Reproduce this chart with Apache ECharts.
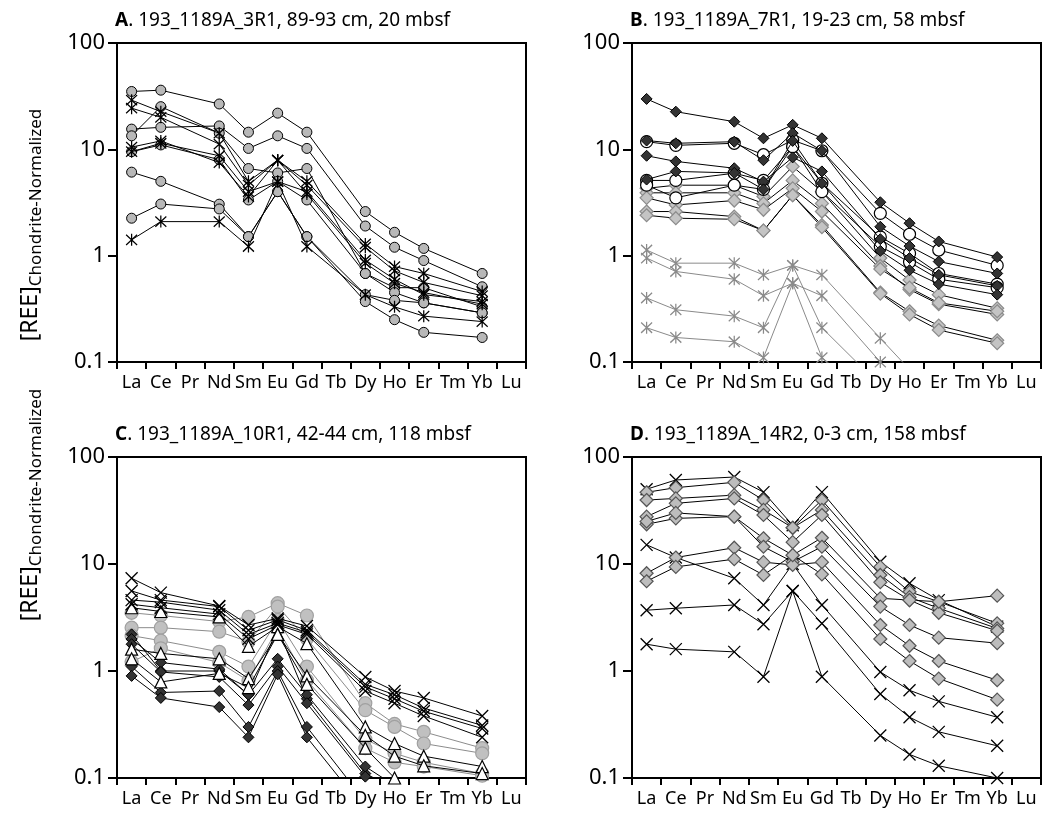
<!DOCTYPE html>
<html>
<head>
<meta charset="utf-8">
<script src="https://cdn.jsdelivr.net/npm/echarts@6/dist/echarts.min.js"></script>
<style>
html, body { margin: 0; padding: 0; background: #fff; }
#chart { width: 1045px; height: 822px; }
</style>
</head>
<body>
<div id="chart"></div>
<script>
// element order on the x axis (Pr, Tb, Tm, Lu not measured -> null)
var elements = ['La', 'Ce', 'Pr', 'Nd', 'Sm', 'Eu', 'Gd', 'Tb', 'Dy', 'Ho', 'Er', 'Tm', 'Yb', 'Lu'];
var yTicks = [0.1, 1, 10, 100];

var panelTitles = [
  ['A', '. 193_1189A_3R1, 89-93 cm, 20 mbsf'],
  ['B', '. 193_1189A_7R1, 19-23 cm, 58 mbsf'],
  ['C', '. 193_1189A_10R1, 42-44 cm, 118 mbsf'],
  ['D', '. 193_1189A_14R2, 0-3 cm, 158 mbsf']
];

// A. 3R1
var aCircles = [
  [35, 36, null, 26.7, 14.5, 21.9, 14.5, null, 2.6, 1.66, 1.17, null, 0.68, null],
  [15.5, 16.1, null, 16.6, 10.2, 13.4, 10.2, null, 1.9, 1.2, 0.9, null, 0.51, null],
  [13.4, 25.2, null, 14.2, 6.6, 6.0, 6.6, null, 0.68, 0.5, 0.5, null, 0.33, null],
  [9.5, 11, null, 8, 3.34, 5.0, 3.34, null, 0.68, 0.45, 0.36, null, 0.29, null],
  [6.1, 5.0, null, 3.05, 1.51, 4.0, 1.51, null, 0.43, 0.38, 0.36, null, 0.29, null],
  [2.25, 3.06, null, 2.75, 1.51, 4.0, 1.51, null, 0.37, 0.25, 0.19, null, 0.17, null]
];
var aStars = [
  [29, 22.6, null, 14.2, 5.0, 7.9, 5.0, null, 1.29, 0.79, 0.68, null, 0.46, null],
  [24.4, 20, null, 11.2, 4.6, 7.9, 4.6, null, 1.2, 0.72, 0.56, null, 0.42, null],
  [9.5, 11.4, null, 8.7, 4.0, 4.97, 4.0, null, 0.91, 0.6, 0.43, null, 0.37, null],
  [10.5, 12, null, 7.5, 3.6, 7.9, 3.8, null, 0.85, 0.55, 0.45, null, 0.35, null],
  [1.41, 2.09, null, 2.09, 1.22, 4.97, 1.22, null, 0.43, 0.33, 0.27, null, 0.24, null]
];

// B. 7R1
var bGrayStars = [
  [1.13, 0.85, null, 0.85, 0.66, 0.81, 0.66, null, 0.167, 0.085, null, null, null, null],
  [0.95, 0.71, null, 0.6, 0.42, 0.55, 0.42, null, 0.1, 0.06, null, null, null, null],
  [0.4, 0.31, null, 0.27, 0.21, 0.81, 0.21, null, 0.06, null, null, null, null, null],
  [0.21, 0.17, null, 0.155, 0.11, 0.55, 0.11, null, 0.04, null, null, null, null, null]
];
var bLight = [
  [4.3, 4.6, null, 4.6, 3.6, 6.9, 4.0, null, 0.95, 0.59, 0.43, null, 0.32, null],
  [3.9, 3.9, null, 3.9, 3.1, 5.1, 3.1, null, 0.8, 0.48, 0.35, null, 0.28, null],
  [3.5, 3.0, null, 3.3, 2.7, 4.3, 2.6, null, 0.75, 0.5, 0.36, null, 0.3, null],
  [2.6, 2.6, null, 2.33, 1.72, 3.7, 1.94, null, 0.45, 0.3, 0.22, null, 0.16, null],
  [2.4, 2.25, null, 2.2, 1.72, 3.7, 1.85, null, 0.44, 0.28, 0.2, null, 0.15, null]
];
var bWhite = [
  [11.8, 10.9, null, 11.4, 8.9, 12.2, 9.7, null, 2.5, 1.59, 1.13, null, 0.81, null],
  [5.1, 5.1, null, 5.96, 5.1, 10.6, 4.8, null, 1.5, 1.05, 0.68, null, 0.54, null],
  [4.6, 3.5, null, 4.6, 4.2, 10.6, 4.0, null, 1.22, 0.87, 0.6, null, 0.5, null]
];
var bDark = [
  [29.8, 22.6, null, 18.2, 12.7, 17, 12.7, null, 3.18, 2.02, 1.36, null, 0.97, null],
  [12.1, 11.4, null, 11.8, 7.9, 14.2, 9.7, null, 1.87, 1.23, 0.88, null, 0.68, null],
  [8.7, 7.7, null, 6.64, 4.97, 8.4, 6.2, null, 1.43, 0.95, 0.66, null, 0.52, null],
  [5.2, 6.2, null, 6.0, 4.2, 12, 4.8, null, 1.11, 0.73, 0.54, null, 0.43, null]
];

// C. 10R1
var cCircles = [
  [3.5, 3.3, null, 2.9, 3.2, 4.3, 3.3, null, 0.5, 0.32, 0.27, null, 0.19, null],
  [2.54, 2.54, null, 2.33, 1.88, 4.0, 2.0, null, 0.43, 0.3, 0.21, null, 0.17, null],
  [2.14, 1.92, null, 1.51, 1.1, 3.0, 1.1, null, 0.23, 0.17, 0.14, null, 0.11, null],
  [1.22, 1.63, null, 1.2, 0.81, 2.5, 0.82, null, 0.19, 0.14, 0.128, null, 0.105, null]
];
var cDiamonds = [
  [2.2, 1.0, null, 1.0, 0.6, 2.5, 0.55, null, 0.11, 0.08, null, null, null, null],
  [1.99, 1.2, null, 1.04, 0.6, 1.3, 0.6, null, 0.128, 0.085, null, null, null, null],
  [1.78, 0.98, null, 0.88, 0.48, 1.1, 0.5, null, 0.103, 0.07, null, null, null, null],
  [1.1, 0.63, null, 0.65, 0.3, 1.0, 0.3, null, 0.06, null, null, null, null, null],
  [0.9, 0.56, null, 0.46, 0.24, 0.93, 0.24, null, 0.05, null, null, null, null, null]
];
var cTriangles = [
  [3.9, 3.6, null, 3.2, 1.7, 2.6, 1.8, null, 0.3, 0.21, 0.16, null, 0.128, null],
  [1.6, 1.46, null, 1.3, 0.85, 2.2, 0.9, null, 0.25, 0.16, 0.13, null, 0.11, null],
  [1.3, 0.79, null, 0.95, 0.7, 2.2, 0.75, null, 0.19, 0.1, 0.09, null, null, null]
];
var cCrosses = [
  [7.35, 5.4, null, 4.05, 2.69, 3.1, 2.63, null, 0.88, 0.65, 0.56, null, 0.38, null],
  [5.6, 4.6, null, 4.0, 2.4, 3.0, 2.4, null, 0.75, 0.6, 0.45, null, 0.31, null],
  [4.6, 4.4, null, 3.7, 2.2, 2.8, 2.3, null, 0.71, 0.55, 0.42, null, 0.29, null],
  [4.2, 3.9, null, 3.4, 2.0, 2.7, 2.2, null, 0.65, 0.5, 0.38, null, 0.24, null]
];

// D. 14R2
var dCrosses = [
  [50, 61, null, 65, 47, 23, 47, null, 10.5, 6.6, 4.6, null, 2.6, null],
  [15.1, 11.5, null, 7.35, 4.14, 10, 4.14, null, 0.98, 0.66, 0.52, null, 0.37, null],
  [3.7, 3.86, null, 4.14, 2.73, 5.6, 2.78, null, 0.61, 0.37, 0.27, null, 0.2, null],
  [1.78, 1.6, null, 1.51, 0.885, 5.6, 0.885, null, 0.25, 0.166, 0.13, null, 0.1, null]
];
var dDiamonds = [
  [46.8, 51.7, null, 58, 39.6, 21.8, 39.6, null, 9.4, 5.5, 4.44, null, 2.79, null],
  [39.6, 41, null, 44, 32, 21.8, 32, null, 7.9, 4.9, 3.86, null, 2.5, null],
  [27.7, 36.9, null, 41, 28.7, 16, 28.7, null, 6.75, 4.6, 3.5, null, 2.38, null],
  [23.5, 26.7, null, 27.7, 17.4, 12.1, 17.6, null, 4.78, 4.6, 4.44, null, 5.06, null],
  [25, 30, null, 27.7, 14.5, 10.5, 14.5, null, 4.0, 2.69, 2.05, null, 1.82, null],
  [8.2, 11.5, null, 14.2, 10.4, 9.8, 10.4, null, 2.69, 1.72, 1.24, null, 0.82, null],
  [6.9, 9.4, null, 11.1, 7.9, 12.1, 8.0, null, 1.99, 1.24, 0.85, null, 0.54, null]
];

var FONT = 'Noto Sans';
var STAR = 'path://M0,0L10,12M10,0L0,12M5,-1L5,13';
var CROSS = 'path://M0,0L10,10M10,0L0,10';

var grids = [
  { left: 117, top: 43, width: 409, height: 319 },
  { left: 632, top: 43, width: 409, height: 319 },
  { left: 117, top: 457, width: 409, height: 321 },
  { left: 632, top: 457, width: 409, height: 321 }
];

var series = [];
function addGroup(gi, rows, sty) {
  rows.forEach(function (r) {
    series.push({
      type: 'line',
      xAxisIndex: gi,
      yAxisIndex: gi,
      data: r,
      connectNulls: true,
      symbol: sty.symbol,
      symbolSize: sty.size,
      showAllSymbol: true,
      lineStyle: { color: sty.line, width: 1 },
      itemStyle: { color: sty.fill, borderColor: sty.stroke, borderWidth: sty.bw },
      z: sty.z,
      silent: true,
      animation: false
    });
  });
}

addGroup(0, aCircles, { symbol: 'circle', size: 10, fill: '#b8b8b8', stroke: '#000', bw: 1, line: '#000', z: 2 });
addGroup(0, aStars, { symbol: STAR, size: [11, 12], fill: 'rgba(0,0,0,0)', stroke: '#000', bw: 1.3, line: '#000', z: 3 });

addGroup(1, bGrayStars, { symbol: STAR, size: [11, 12], fill: 'rgba(0,0,0,0)', stroke: '#8a8a8a', bw: 1.3, line: '#8a8a8a', z: 2 });
addGroup(1, bLight, { symbol: 'diamond', size: 13, fill: '#c4c4c4', stroke: '#8c8c8c', bw: 1.2, line: '#000', z: 3 });
addGroup(1, bWhite, { symbol: 'circle', size: 12, fill: '#fff', stroke: '#000', bw: 1.2, line: '#000', z: 4 });
addGroup(1, bDark, { symbol: 'diamond', size: 11, fill: '#333', stroke: '#000', bw: 1, line: '#000', z: 5 });

addGroup(2, cCircles, { symbol: 'circle', size: 13, fill: '#c0c0c0', stroke: '#a0a0a0', bw: 1.2, line: '#8c8c8c', z: 2 });
addGroup(2, cDiamonds, { symbol: 'diamond', size: 11, fill: '#333', stroke: '#000', bw: 1, line: '#000', z: 3 });
addGroup(2, cTriangles, { symbol: 'triangle', size: 12, fill: '#fff', stroke: '#000', bw: 1.2, line: '#000', z: 4 });
addGroup(2, cCrosses, { symbol: CROSS, size: 12, fill: 'rgba(0,0,0,0)', stroke: '#000', bw: 1.3, line: '#000', z: 5 });

addGroup(3, dCrosses, { symbol: CROSS, size: 12, fill: 'rgba(0,0,0,0)', stroke: '#000', bw: 1.3, line: '#000', z: 2 });
addGroup(3, dDiamonds, { symbol: 'diamond', size: 13, fill: '#bdbdbd', stroke: '#555', bw: 1.2, line: '#000', z: 3 });

var xAxes = grids.map(function (g, i) {
  return {
    type: 'category',
    gridIndex: i,
    data: elements,
    boundaryGap: true,
    axisLine: { lineStyle: { color: '#000', width: 2 } },
    axisTick: { show: true, length: 7, interval: 0, lineStyle: { color: '#000', width: 2 } },
    axisLabel: { interval: 0, color: '#000', fontFamily: FONT, fontSize: 18, margin: 12 },
    splitLine: { show: false }
  };
});
var yAxes = grids.map(function (g, i) {
  return {
    type: 'log',
    logBase: 10,
    gridIndex: i,
    min: yTicks[0],
    max: yTicks[yTicks.length - 1],
    axisLine: { lineStyle: { color: '#000', width: 2 } },
    axisTick: { show: true, length: 9, lineStyle: { color: '#000', width: 2 } },
    minorTick: { show: false },
    axisLabel: {
      color: '#000', fontFamily: FONT, fontSize: 22, margin: 12,
      formatter: function (v) { return String(parseFloat(Number(v).toPrecision(3))); }
    },
    splitLine: { show: false }
  };
});

var titles = panelTitles.map(function (t, i) {
  return {
    left: grids[i].left - 7,
    top: grids[i].top - 37,
    text: '{b|' + t[0] + '}{n|' + t[1] + '}',
    textStyle: {
      fontWeight: 'normal',
      rich: {
        b: { fontFamily: FONT, fontSize: 19, fontWeight: 'bold', color: '#000' },
        n: { fontFamily: FONT, fontSize: 19, fontWeight: 'normal', color: '#000' }
      }
    }
  };
});

function yName(cy) {
  return {
    type: 'text',
    x: 30,
    y: cy,
    rotation: Math.PI / 2,
    style: {
      text: '{a|[REE]}{b|Chondrite-Normalized}',
      align: 'center',
      verticalAlign: 'middle',
      rich: {
        a: { fontFamily: FONT, fontSize: 23, color: '#000', lineHeight: 30, verticalAlign: 'middle' },
        b: { fontFamily: FONT, fontSize: 17, color: '#000', lineHeight: 30, verticalAlign: 'bottom', padding: [10, 0, 0, 0] }
      }
    }
  };
}

var chart = echarts.init(document.getElementById('chart'), null, { renderer: 'canvas' });
chart.setOption({
  backgroundColor: '#fff',
  animation: false,
  title: titles,
  grid: grids.map(function (g) {
    return { left: g.left, top: g.top, width: g.width, height: g.height, show: true, borderColor: '#000', borderWidth: 2, containLabel: false };
  }),
  xAxis: xAxes,
  yAxis: yAxes,
  graphic: [yName(225), yName(505)],
  series: series
});
</script>
</body>
</html>
